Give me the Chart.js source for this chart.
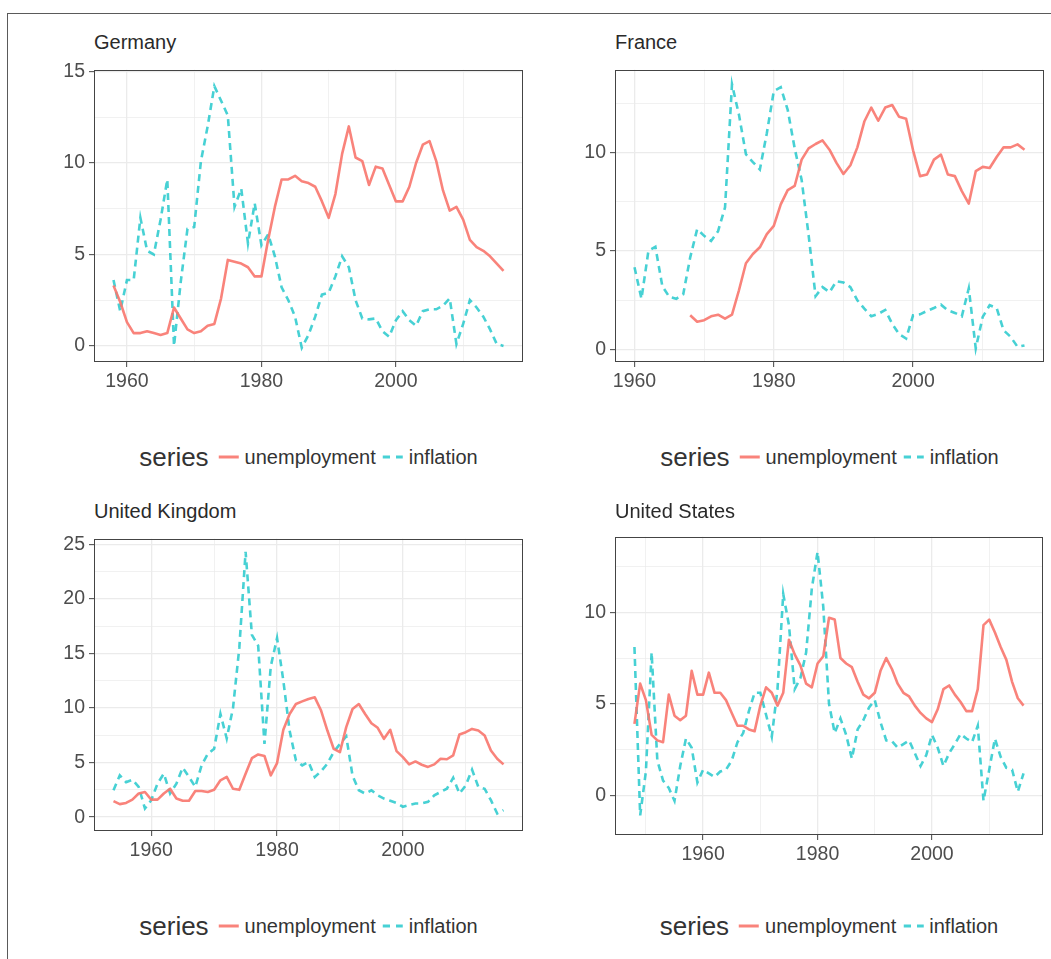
<!DOCTYPE html>
<html>
<head>
<meta charset="utf-8">
<script src="https://cdn.jsdelivr.net/npm/chart.js@4.4.1/dist/chart.umd.min.js"></script>
<style>
  html, body { margin: 0; padding: 0; background: #fff; overflow: hidden; }
  body { width: 1051px; height: 959px; position: relative; font-family: "Liberation Sans", Arial, sans-serif; }
  .frame { position: absolute; left: 7px; top: 13px; width: 1100px; height: 1000px; border: 1px solid #5a5a5a; }
  canvas { position: absolute; }
  .title { position: absolute; font-size: 20px; line-height: 24px; color: #2a2a2a; white-space: nowrap; }
  .legend { position: absolute; display: flex; align-items: center; transform: translate(-50%, -50%); white-space: nowrap; color: #333; }
  .legend .ttl { font-size: 26px; margin-right: 10px; }
  .legend .txt { font-size: 20px; }
  .legend .gap { margin-right: 7px; }
  .swatch { display: inline-block; width: 20px; height: 3px; margin-right: 6px; }
  .solid { background: rgba(248, 118, 109, 0.9); }
  .dashed { background: linear-gradient(to right, rgba(0, 191, 196, 0.72) 0 7px, transparent 7px 13px, rgba(0, 191, 196, 0.72) 13px 20px); }
</style>
</head>
<body>
<div class="frame"></div>
<div id="root"></div>
<script>
const UNEMP_COLOR = 'rgba(248, 118, 109, 0.9)';
const INFL_COLOR = 'rgba(0, 191, 196, 0.72)';

function years(from, to) {
	let out = [];
	for (let y = from; y <= to; y++) out.push(y);
	return out;
}

// Germany, 1958-2016
const germanyYears = years(1958, 2016);
const germanyUnemployment = [3.3, 2.4, 1.3, 0.7, 0.7, 0.8, 0.7, 0.6, 0.7, 2.1,
	1.5, 0.9, 0.7, 0.8, 1.1, 1.2, 2.6, 4.7, 4.6, 4.5,
	4.3, 3.8, 3.8, 5.8, 7.6, 9.1, 9.1, 9.3, 9.0, 8.9,
	8.7, 7.9, 7.0, 8.3, 10.5, 12.0, 10.3, 10.1, 8.8, 9.8,
	9.7, 8.8, 7.9, 7.9, 8.7, 10.0, 11.0, 11.2, 10.1, 8.5,
	7.4, 7.6, 6.9, 5.8, 5.4, 5.2, 4.9, 4.5, 4.1];
const germanyInflation = [3.6, 1.9, 3.6, 3.6, 7.0, 5.2, 5.0, 6.9, 9.1, 0.0,
	3.5, 6.4, 6.5, 10.1, 12.0, 14.2, 13.4, 12.6, 7.6, 8.6,
	5.6, 7.8, 5.5, 6.1, 4.9, 3.2, 2.5, 1.6, -0.1, 0.6,
	1.6, 2.8, 2.9, 3.8, 4.9, 4.3, 2.5, 1.5, 1.45, 1.5,
	0.8, 0.5, 1.4, 1.9, 1.4, 1.1, 1.9, 2.0, 2.0, 2.2,
	2.6, 0.1, 1.2, 2.5, 2.1, 1.6, 0.9, 0.1, 0.0];

// France, unemployment 1968-2016, inflation 1960-2016
const franceUnempYears = years(1968, 2016);
const franceUnemployment = [1.73, 1.4, 1.48, 1.68, 1.76, 1.56, 1.76, 3.0, 4.37, 4.84,
	5.18, 5.85, 6.27, 7.36, 8.08, 8.29, 9.63, 10.2, 10.42, 10.6,
	10.13, 9.46, 8.9, 9.34, 10.25, 11.56, 12.27, 11.6, 12.27, 12.4,
	11.8, 11.7, 10.1, 8.79, 8.87, 9.63, 9.88, 8.87, 8.79, 8.03,
	7.4, 9.04, 9.26, 9.2, 9.76, 10.25, 10.25, 10.4, 10.13];
const franceInflYears = years(1960, 2016);
const franceInflation = [4.17, 2.57, 5.0, 5.2, 3.2, 2.66, 2.57, 2.8, 4.67, 6.1,
	5.76, 5.5, 6.0, 7.2, 13.45, 11.9, 9.9, 9.5, 9.13, 10.97,
	13.1, 13.3, 12.15, 10.2, 8.6, 5.8, 2.7, 3.16, 2.9, 3.46,
	3.4, 3.16, 2.49, 2.07, 1.68, 1.8, 2.0, 1.3, 0.77, 0.55,
	1.73, 1.78, 1.95, 2.1, 2.27, 1.98, 1.85, 1.68, 3.1, 0.05,
	1.65, 2.24, 2.1, 0.97, 0.64, 0.13, 0.2];

// United Kingdom, 1954-2016
const ukYears = years(1954, 2016);
const ukUnemployment = [1.46, 1.19, 1.3, 1.6, 2.16, 2.3, 1.6, 1.6, 2.16, 2.6,
	1.7, 1.5, 1.5, 2.4, 2.4, 2.3, 2.5, 3.37, 3.68, 2.6,
	2.5, 3.98, 5.4, 5.74, 5.6, 3.83, 4.95, 8.0, 9.45, 10.36,
	10.6, 10.82, 10.97, 9.76, 7.93, 6.26, 5.96, 8.24, 9.9, 10.36,
	9.45, 8.6, 8.18, 7.17, 8.0, 6.05, 5.5, 4.83, 5.1, 4.8,
	4.6, 4.83, 5.35, 5.3, 5.65, 7.57, 7.78, 8.08, 7.93, 7.48,
	6.1, 5.35, 4.83];
const ukInflation = [2.46, 3.83, 3.2, 3.43, 2.77, 0.79, 1.55, 3.07, 3.98, 2.16,
	3.07, 4.53, 3.68, 2.77, 4.74, 5.8, 6.26, 9.45, 7.2, 10.0,
	15.5, 24.3, 16.7, 15.7, 6.7, 13.8, 16.4, 12.5, 7.9, 5.2,
	4.74, 5.05, 3.68, 4.2, 4.9, 5.96, 6.7, 7.4, 3.8, 2.46,
	2.16, 2.46, 2.0, 1.7, 1.5, 1.3, 0.94, 1.1, 1.25, 1.25,
	1.4, 2.0, 2.3, 2.6, 3.6, 2.16, 2.9, 4.35, 2.77, 2.6,
	1.55, 0.33, 0.64];

// United States, 1948-2016
const usYears = years(1948, 2016);
const usUnemployment = [3.9, 6.1, 5.2, 3.3, 3.0, 2.9, 5.5, 4.35, 4.1, 4.35,
	6.8, 5.5, 5.5, 6.7, 5.6, 5.6, 5.2, 4.5, 3.8, 3.8,
	3.6, 3.5, 4.9, 5.9, 5.6, 4.9, 5.6, 8.5, 7.7, 7.1,
	6.1, 5.9, 7.2, 7.6, 9.7, 9.6, 7.5, 7.2, 7.0, 6.2,
	5.5, 5.3, 5.6, 6.8, 7.5, 6.9, 6.1, 5.6, 5.4, 4.9,
	4.5, 4.2, 4.0, 4.7, 5.8, 6.0, 5.5, 5.1, 4.6, 4.6,
	5.8, 9.3, 9.6, 8.9, 8.1, 7.4, 6.2, 5.3, 4.9];
const usInflation = [8.1, -1.1, 1.3, 7.8, 1.9, 0.8, 0.4, -0.3, 1.6, 3.1,
	2.6, 0.7, 1.4, 1.2, 1.0, 1.3, 1.4, 1.9, 2.9, 3.4,
	4.6, 5.6, 5.6, 4.4, 3.2, 5.8, 11.0, 9.3, 5.8, 6.4,
	7.8, 11.3, 13.3, 10.3, 5.0, 3.4, 4.2, 3.3, 2.0, 3.6,
	4.1, 4.8, 5.2, 4.0, 3.0, 2.95, 2.6, 2.8, 3.0, 2.3,
	1.6, 2.2, 3.3, 2.6, 1.6, 2.3, 2.8, 3.35, 3.1, 2.9,
	3.8, -0.3, 1.4, 3.1, 2.1, 1.5, 1.4, 0.2, 1.2];

// tick labels
const xTickLabels = [1960, 1980, 2000];
const germanyYTicks = [0, 5, 10, 15];
const franceYTicks = [0, 5, 10];
const ukYTicks = [0, 5, 10, 15, 20, 25];
const usYTicks = [0, 5, 10];

// space round each plot panel, taken by axes
const M = { left: 60, top: 14, right: 8, bottom: 34 };

const panels = [
	{ title: 'Germany', box: { left: 94, top: 68, right: 523, bottom: 362 }, titleY: 42, legendY: 457,
		x: [1955.1, 2018.9], y: [-0.88, 15.1], yTicks: germanyYTicks,
		unemp: [germanyYears, germanyUnemployment], infl: [germanyYears, germanyInflation] },
	{ title: 'France', box: { left: 615, top: 68, right: 1044, bottom: 362 }, titleY: 42, legendY: 457,
		x: [1957.2, 2018.8], y: [-0.64, 14.19], yTicks: franceYTicks,
		unemp: [franceUnempYears, franceUnemployment], infl: [franceInflYears, franceInflation] },
	{ title: 'United Kingdom', box: { left: 94, top: 537, right: 523, bottom: 831 }, titleY: 511, legendY: 926,
		x: [1950.9, 2019.1], y: [-1.27, 25.5], yTicks: ukYTicks,
		unemp: [ukYears, ukUnemployment], infl: [ukYears, ukInflation] },
	{ title: 'United States', box: { left: 615, top: 535, right: 1043, bottom: 835 }, titleY: 511, legendY: 926,
		x: [1944.6, 2019.4], y: [-2.17, 14.13], yTicks: usYTicks,
		unemp: [usYears, usUnemployment], infl: [usYears, usInflation] },
];

function withMinor(majors, min, max) {
	let step = majors[1] - majors[0];
	let vals = majors.slice();
	majors.forEach(function (v) {
		vals.push(v - step / 2, v + step / 2);
	});
	vals = Array.from(new Set(vals)).filter((v) => v >= min && v <= max).sort((a, b) => a - b);
	return vals.map((v) => ({ value: v }));
}

function toPoints(xs, ys) {
	return xs.map((x, i) => ({ x: x, y: ys[i] }));
}

const panelBorder = {
	id: 'panelBorder',
	afterDraw: function (chart) {
		let a = chart.chartArea;
		let ctx = chart.ctx;
		ctx.save();
		ctx.strokeStyle = '#444';
		ctx.lineWidth = 1;
		ctx.strokeRect(Math.round(a.left) + 0.5, Math.round(a.top) + 0.5,
			Math.round(a.right - a.left) - 1, Math.round(a.bottom - a.top) - 1);
		ctx.restore();
	},
};

function axisOptions(majors, range, horizontal) {
	let isMajor = (v) => majors.includes(v);
	return {
		type: 'linear',
		min: range[0],
		max: range[1],
		afterFit: function (scale) {
			if (horizontal) scale.height = M.bottom;
			else scale.width = M.left;
		},
		afterBuildTicks: function (axis) {
			axis.ticks = withMinor(majors, range[0], range[1]);
		},
		border: { display: false },
		grid: {
			drawOnChartArea: true,
			color: '#ebebeb',
			lineWidth: (c) => (c.tick && isMajor(c.tick.value) ? 1.3 : 0.7),
			tickColor: (c) => (c.tick && isMajor(c.tick.value) ? '#444' : 'rgba(0,0,0,0)'),
			tickLength: 5,
			tickWidth: 1,
		},
		ticks: {
			autoSkip: false,
			maxRotation: 0,
			padding: horizontal ? 3 : 4,
			color: '#4d4d4d',
			font: { family: 'Liberation Sans', size: 19.5 },
			callback: (v) => (isMajor(v) ? String(v) : ''),
		},
	};
}

const root = document.getElementById('root');

panels.forEach(function (p) {
	let b = p.box;
	let canvas = document.createElement('canvas');
	canvas.width = b.right - b.left + M.left + M.right;
	canvas.height = b.bottom - b.top + M.top + M.bottom;
	canvas.style.left = b.left - M.left + 'px';
	canvas.style.top = b.top - M.top + 'px';
	root.appendChild(canvas);

	let title = document.createElement('div');
	title.className = 'title';
	title.textContent = p.title;
	title.style.left = b.left + 'px';
	title.style.top = p.titleY - 12 + 'px';
	root.appendChild(title);

	let legend = document.createElement('div');
	legend.className = 'legend';
	legend.style.left = (b.left + b.right) / 2 + 'px';
	legend.style.top = p.legendY + 'px';
	legend.innerHTML = '<span class="ttl">series</span>' +
		'<span class="swatch solid"></span><span class="txt gap">unemployment</span>' +
		'<span class="swatch dashed"></span><span class="txt">inflation</span>';
	root.appendChild(legend);

	new Chart(canvas, {
		type: 'line',
		data: {
			datasets: [
				{
					label: 'unemployment',
					data: toPoints(p.unemp[0], p.unemp[1]),
					borderColor: UNEMP_COLOR,
					borderWidth: 2.6,
					pointRadius: 0,
					tension: 0,
					borderJoinStyle: 'round',
				},
				{
					label: 'inflation',
					data: toPoints(p.infl[0], p.infl[1]),
					borderColor: INFL_COLOR,
					borderWidth: 2.6,
					borderDash: [7, 5],
					pointRadius: 0,
					tension: 0,
				},
			],
		},
		options: {
			responsive: false,
			animation: false,
			layout: { padding: { left: 0, top: M.top, right: M.right, bottom: 0 } },
			plugins: { legend: { display: false }, tooltip: { enabled: false } },
			scales: {
				x: axisOptions(xTickLabels, p.x, true),
				y: axisOptions(p.yTicks, p.y, false),
			},
		},
		plugins: [panelBorder],
	});
});
</script>
</body>
</html>
